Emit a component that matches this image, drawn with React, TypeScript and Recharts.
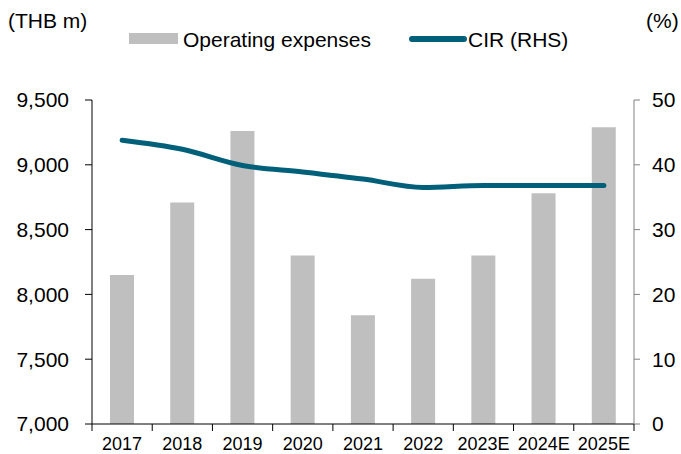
import { ComposedChart, Bar, Line, XAxis, YAxis } from "recharts";

const years = ["2017", "2018", "2019", "2020", "2021", "2022", "2023E", "2024E", "2025E"];
const opex = [8150, 8710, 9260, 8300, 7840, 8120, 8300, 8780, 9290];
const cir = [43.8, 42.4, 39.9, 38.9, 37.8, 36.5, 36.8, 36.8, 36.8];
const leftTicks = [7000, 7500, 8000, 8500, 9000, 9500];
const rightTicks = [0, 10, 20, 30, 40, 50];

const BAR = "#bfbfbf";
const TEAL = "#00607a";
const FONT = "'Liberation Sans', Arial, sans-serif";

const data = years.map((y, i) => ({ year: y, opex: opex[i], cir: cir[i] }));

function YearTick(props: any) {
  const { x, y, payload, index, visibleTicksCount, width } = props;
  const half = payload?.offset ?? width / visibleTicksCount / 2;
  const last = index === visibleTicksCount - 1;
  return (
    <g>
      <line x1={x - half} x2={x - half} y1={y} y2={y + 7} stroke="#000" />
      {last && <line x1={x + half} x2={x + half} y1={y} y2={y + 7} stroke="#000" />}
      <text x={x} y={y + 13} dy="0.71em" textAnchor="middle" fontSize={18} fontFamily={FONT} fill="#000">
        {payload.value}
      </text>
    </g>
  );
}

const txt = { position: "absolute" as const, fontFamily: FONT, fontSize: 21, lineHeight: "21px", color: "#000", whiteSpace: "nowrap" as const };

export default function App() {
  return (
    <div style={{ position: "absolute", left: 0, top: 0, width: 681, height: 454, background: "#fff" }}>
      <ComposedChart width={681} height={454} data={data} margin={{ top: 100, right: 0, bottom: 0, left: 0 }} barCategoryGap="60%">
        <XAxis dataKey="year" height={30} tickSize={0} tickMargin={0} tickLine={false} stroke="#000" tick={<YearTick />} interval={0} />
        <YAxis yAxisId="l" width={92} domain={[7000, 9500]} ticks={leftTicks} tickFormatter={(v) => v.toLocaleString("en-US")}
          tickSize={7} tickMargin={16} stroke="#000" tick={{ fill: "#000", fontSize: 21, fontFamily: FONT }} />
        <YAxis yAxisId="r" orientation="right" width={47} domain={[0, 50]} ticks={rightTicks}
          tickSize={6} tickMargin={12} stroke="#808080" tick={{ fill: "#000", fontSize: 21, fontFamily: FONT }} />
        <Bar yAxisId="l" dataKey="opex" fill={BAR} barSize={24} isAnimationActive={false} />
        <Line yAxisId="r" dataKey="cir" type="monotone" stroke={TEAL} strokeWidth={5} strokeLinecap="round" strokeLinejoin="round"
          dot={false} isAnimationActive={false} />
      </ComposedChart>
      <div style={{ ...txt, left: 8, top: 10 }}>(THB m)</div>
      <div style={{ ...txt, left: 646, top: 10 }}>(%)</div>
      <div style={{ position: "absolute", left: 129, top: 33, width: 49, height: 11, background: BAR }} />
      <div style={{ ...txt, left: 183, top: 29 }}>Operating expenses</div>
      <div style={{ position: "absolute", left: 409, top: 36, width: 58, height: 6, borderRadius: 3, background: TEAL }} />
      <div style={{ ...txt, left: 468, top: 29 }}>CIR (RHS)</div>
    </div>
  );
}
